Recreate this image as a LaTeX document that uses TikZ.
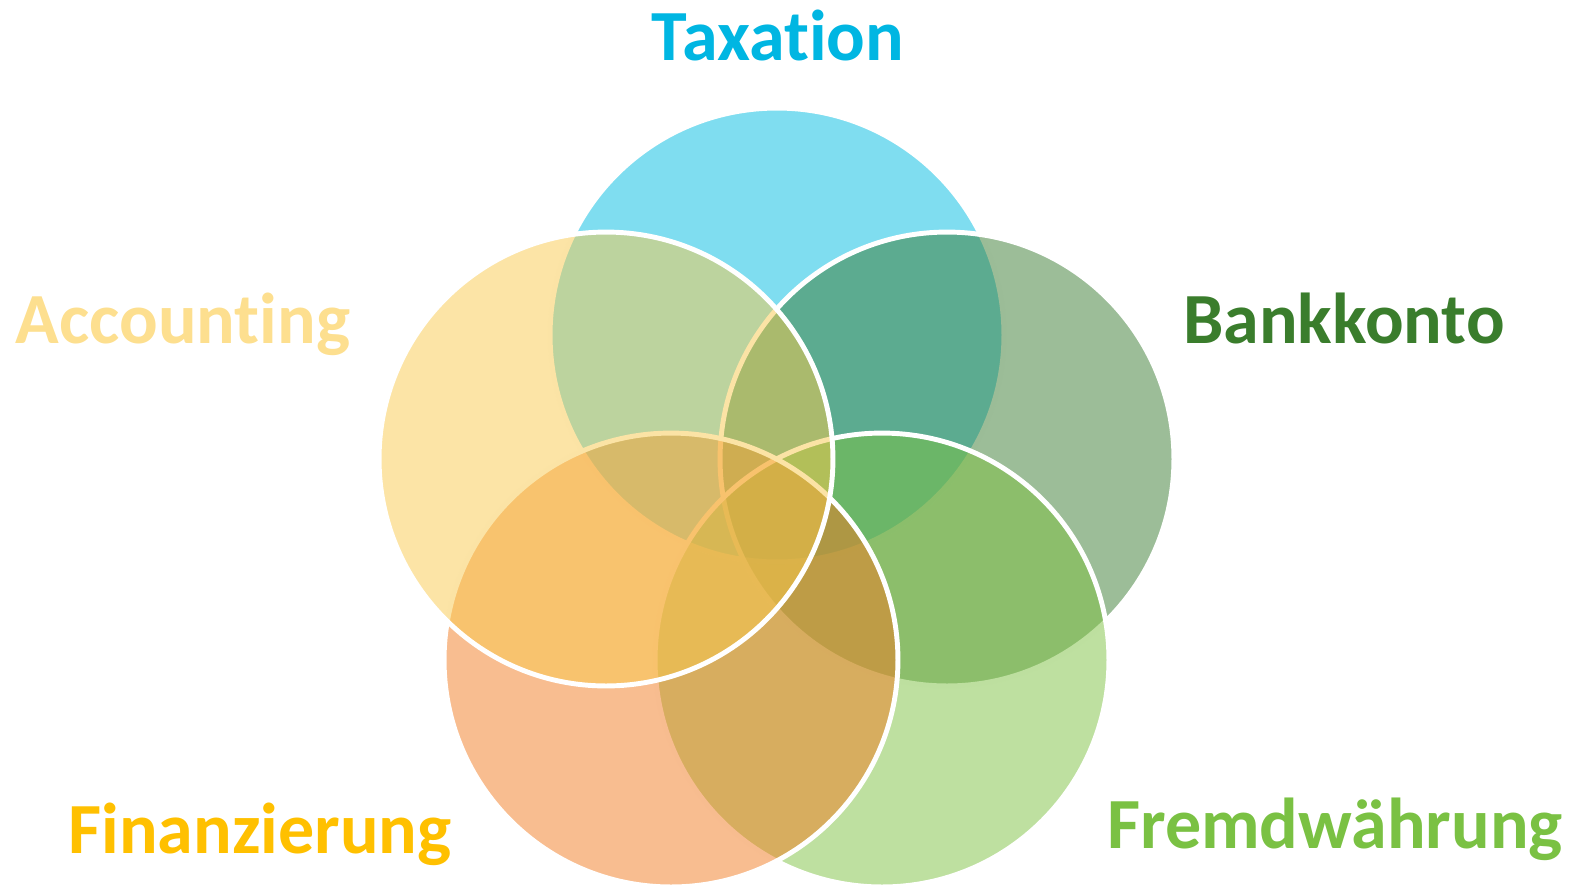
\documentclass[tikz,border=0pt]{standalone}
\usepackage{fontspec}
\setmainfont{Carlito}[Ligatures=NoCommon]
\definecolor{taxcol}{RGB}{0,187,225}
\definecolor{acccol}{RGB}{249,201,77}
\definecolor{bankcol}{RGB}{57,123,49}
\definecolor{fxcol}{RGB}{125,193,65}
\definecolor{fincol}{RGB}{241,123,33}
\definecolor{taxtext}{RGB}{0,182,226}
\definecolor{acctext}{RGB}{253,223,143}
\definecolor{banktext}{RGB}{58,125,44}
\definecolor{fxtext}{RGB}{122,193,67}
\definecolor{fintext}{RGB}{255,192,0}
\tikzset{
  ring/.style={circle, minimum size=9.08cm, inner sep=0pt, outer sep=0pt,
    draw=white, line width=2.8pt, fill opacity=0.5},
  label/.style={font=\fontsize{41}{41}\selectfont\bfseries, inner sep=0pt, anchor=base}
}
\begin{document}
\begin{tikzpicture}[x=0.02cm,y=-0.02cm]
    \useasboundingbox (0,0) rectangle (1572,887);

    % The five circles, bottom one first
    \foreach \n/\x/\y/\c in {tax/777/335/taxcol, bank/947/459/bankcol, fx/882/660/fxcol,
                             fin/671/660/fincol, acc/606/459/acccol} {
        \node[ring, fill=\c] (\n) at (\x,\y) {};
    }

    % Labels
    \node[label, text=taxtext] (taxlabel) at (778,60) {Taxation};
    \node[label, text=acctext] (acclabel) at (183,343) {Accounting};
    \node[label, text=banktext] (banklabel) at (1344,343) {Bankkonto};
    \node[label, text=fintext] (finlabel) at (260,853) {Finanzierung};
    \node[label, text=fxtext] (fxlabel) at (1335,848) {Fremdwährung};
\end{tikzpicture}
\end{document}
